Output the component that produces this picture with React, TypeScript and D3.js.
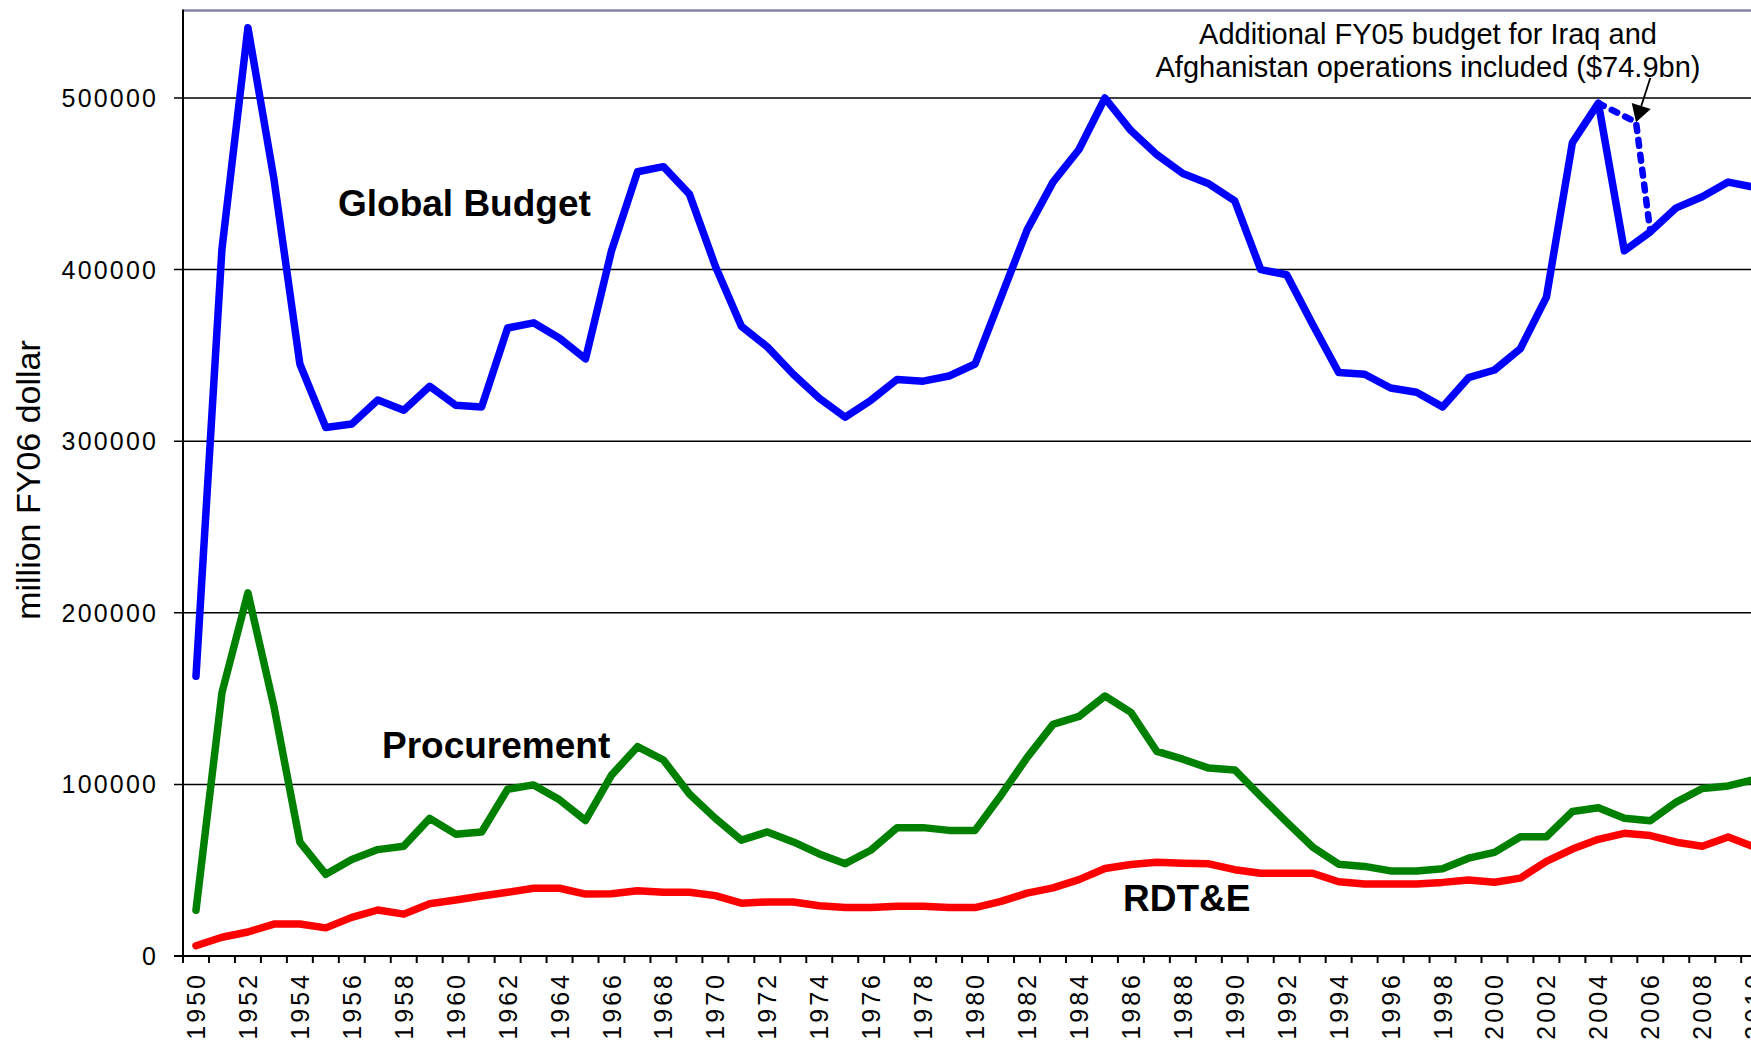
import * as d3 from "d3";

// years on the category axis
const years = [
  1950, 1951, 1952, 1953, 1954, 1955, 1956, 1957, 1958, 1959,
  1960, 1961, 1962, 1963, 1964, 1965, 1966, 1967, 1968, 1969,
  1970, 1971, 1972, 1973, 1974, 1975, 1976, 1977, 1978, 1979,
  1980, 1981, 1982, 1983, 1984, 1985, 1986, 1987, 1988, 1989,
  1990, 1991, 1992, 1993, 1994, 1995, 1996, 1997, 1998, 1999,
  2000, 2001, 2002, 2003, 2004, 2005, 2006, 2007, 2008, 2009, 2010,
];

// million FY06 dollars
const globalBudget = [
  163000, 412000, 541000, 453000, 345000, 308000, 310000, 324000, 318000, 332000,
  321000, 320000, 366000, 369000, 360000, 348000, 411000, 457000, 460000, 444000,
  402000, 367000, 355000, 339000, 325000, 314000, 324000, 336000, 335000, 338000,
  345000, 384000, 423000, 451000, 470000, 500000, 481000, 467000, 456000, 450000,
  440000, 400000, 397000, 368000, 340000, 339000, 331000, 328500, 320000, 337000,
  341500, 354000, 384000, 474000, 497000, 411000, 422000, 436000, 442500, 451000, 448000,
];

const procurement = [
  26700, 153500, 211600, 145500, 66400, 47600, 56200, 62000, 64000, 80200,
  71000, 72300, 97200, 99700, 91000, 79000, 105400, 122000, 114200, 94400,
  80200, 67500, 72300, 66500, 59500, 53800, 61800, 74800, 74800, 73200,
  73200, 93700, 115600, 135000, 139600, 151500, 142000, 119200, 114700, 109500,
  108400, 93000, 78000, 63500, 53500, 52200, 49600, 49600, 50800, 57000,
  60400, 69500, 69500, 84200, 86400, 80300, 78800, 89700, 97600, 99100, 102800,
];

const rdte = [
  6000, 10900, 14000, 18600, 18600, 16400, 22500, 26800, 24400, 30500,
  32600, 35000, 37100, 39500, 39500, 36100, 36300, 38000, 37200, 37200,
  35200, 30800, 31500, 31500, 29300, 28200, 28200, 29000, 29000, 28200,
  28200, 31800, 36600, 39700, 44500, 51000, 53300, 54600, 54000, 53700,
  50300, 48200, 48200, 48200, 43300, 42000, 42000, 42000, 42900, 44300,
  43000, 45400, 55200, 62300, 68000, 71500, 70200, 66300, 64000, 69300, 63600,
];

// FY05 with the Iraq / Afghanistan supplement (dashed)
const supplementYears = [2004, 2005.45, 2006];
const supplementValues = [497000, 485900, 422000];

// arrow from the note to the dashed point
const arrowFrom = [2006, 511700];
const arrowTo = [2005.45, 485900];

const yTicks = [0, 100000, 200000, 300000, 400000, 500000];
const xLabelYears = years.filter((y) => y % 2 === 0);

const FONT = "'Liberation Sans', Arial, Helvetica, sans-serif";

function App() {
  const width = 1751;
  const height = 1040;
  const left = 183;
  const bottom = 956;
  const bandW = 25.97;

  const x = d3
    .scaleLinear()
    .domain([1949.5, 2010.5])
    .range([left, left + 61 * bandW]);
  const y = d3.scaleLinear().domain([0, 551000]).range([bottom, 10.5]);

  const line = d3
    .line<number>()
    .x((d, i) => x(years[i]))
    .y((d) => y(d));

  const dashed = d3
    .line<number>()
    .x((d, i) => x(supplementYears[i]))
    .y((d) => y(d));

  // arrow head
  const ax0 = x(arrowFrom[0]);
  const ay0 = y(arrowFrom[1]);
  const ax1 = x(arrowTo[0]);
  const ay1 = y(arrowTo[1]);
  const len = Math.hypot(ax1 - ax0, ay1 - ay0);
  const ux = (ax1 - ax0) / len;
  const uy = (ay1 - ay0) / len;
  const headL = 17;
  const headW = 10;
  const bx = ax1 - ux * headL;
  const by = ay1 - uy * headL;
  const head = [
    [ax1, ay1],
    [bx - uy * headW, by + ux * headW],
    [bx + uy * headW, by - ux * headW],
  ];

  const tickLs = 2.2;
  const xLs = 3;

  return (
    <svg
      width={width}
      height={height}
      style={{ position: "absolute", left: 0, top: 0, background: "#fff" }}
      fontFamily={FONT}
    >
      {/* gridlines + y ticks */}
      {yTicks.map((t) => (
        <g key={t}>
          {t > 0 && (
            <line x1={left - 9} x2={width} y1={y(t)} y2={y(t)} stroke="#000" strokeWidth={1.5} />
          )}
          <text
            x={156 + tickLs}
            y={y(t)}
            textAnchor="end"
            dominantBaseline="central"
            fontSize={25}
            letterSpacing={tickLs}
            fill="#000"
          >
            {t}
          </text>
        </g>
      ))}

      {/* plot top border */}
      <line x1={left} x2={width} y1={10.5} y2={10.5} stroke="#8282a6" strokeWidth={2.6} />

      {/* axes */}
      <line x1={left} x2={left} y1={9.5} y2={bottom + 7} stroke="#000" strokeWidth={2} />
      <line x1={left - 9} x2={width} y1={bottom} y2={bottom} stroke="#000" strokeWidth={2} />

      {/* x ticks at year boundaries */}
      {years.map((yr) => (
        <line
          key={yr}
          x1={x(yr + 0.5)}
          x2={x(yr + 0.5)}
          y1={bottom}
          y2={bottom + 7}
          stroke="#000"
          strokeWidth={2}
        />
      ))}

      {/* x labels */}
      {xLabelYears.map((yr) => (
        <text
          key={yr}
          transform={`translate(${x(yr)},${975 - xLs}) rotate(-90)`}
          textAnchor="end"
          dominantBaseline="central"
          fontSize={25}
          letterSpacing={xLs}
          fill="#000"
        >
          {yr}
        </text>
      ))}

      {/* y title */}
      <text
        transform={`translate(40,${(bottom + 10) / 2 - 3}) rotate(-90)`}
        textAnchor="middle"
        fontSize={34}
        fill="#000"
      >
        million FY06 dollar
      </text>

      {/* series */}
      <path d={line(rdte) || ""} fill="none" stroke="#ff0000" strokeWidth={7.5} strokeLinejoin="round" strokeLinecap="round" />
      <path d={line(procurement) || ""} fill="none" stroke="#008000" strokeWidth={7.5} strokeLinejoin="round" strokeLinecap="round" />
      <path d={line(globalBudget) || ""} fill="none" stroke="#0000ff" strokeWidth={7.5} strokeLinejoin="round" strokeLinecap="round" />
      <path
        d={dashed(supplementValues) || ""}
        fill="none"
        stroke="#0000ff"
        strokeWidth={6.5}
        strokeDasharray="6 9"
        strokeLinecap="round"
        strokeLinejoin="round"
      />

      {/* series labels */}
      <g fontWeight="bold" fontSize={37} fill="#000">
        <text x={338} y={216}>Global Budget</text>
        <text x={382} y={758}>Procurement</text>
        <text x={1123} y={911}>RDT&amp;E</text>
      </g>

      {/* note */}
      <g fontSize={29} fill="#000" textAnchor="middle">
        <text x={1428} y={44}>Additional FY05 budget for Iraq and</text>
        <text x={1428} y={77}>Afghanistan operations included ($74.9bn)</text>
      </g>
      <line x1={ax0} y1={ay0} x2={bx} y2={by} stroke="#000" strokeWidth={1.8} />
      <polygon points={head.map((p) => p.join(",")).join(" ")} fill="#000" />
    </svg>
  );
}

export default App;
